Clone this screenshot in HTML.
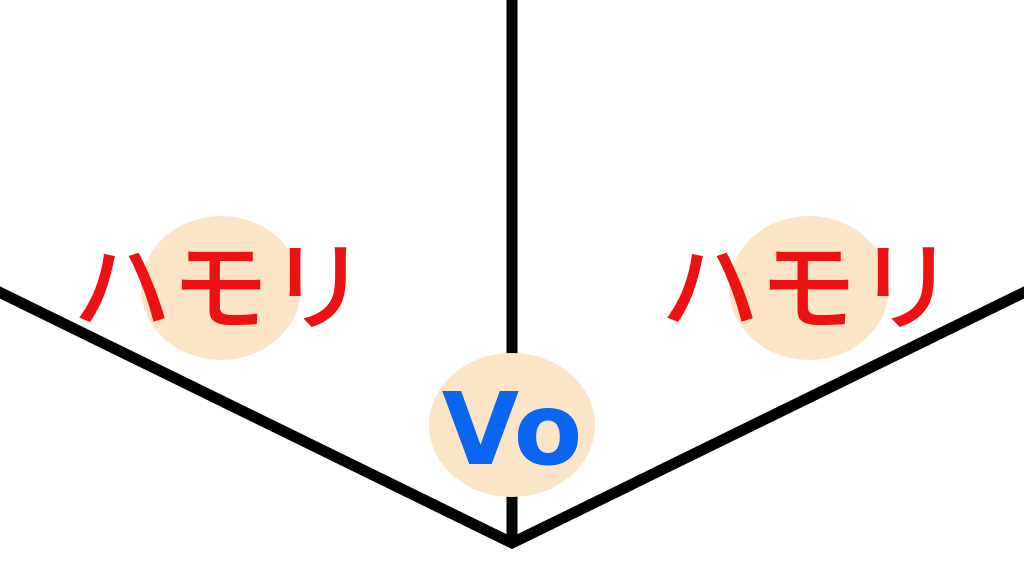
<!DOCTYPE html>
<html><head><meta charset="utf-8"><style>html,body{margin:0;padding:0;background:#fff}svg{display:block}</style></head>
<body>
<svg width="1024" height="576" viewBox="0 0 1024 576" xmlns="http://www.w3.org/2000/svg">
<rect width="1024" height="576" fill="#fff"/>
<line x1="512" y1="0" x2="512" y2="540" stroke="#000" stroke-width="11"/>
<polyline points="-5,290 512,543 1029,290" fill="none" stroke="#000" stroke-width="11" stroke-linejoin="miter"/>
<ellipse cx="221" cy="288" rx="80" ry="72" fill="#fce4c6"/>
<ellipse cx="809" cy="288" rx="80" ry="72" fill="#fce4c6"/>
<ellipse cx="512" cy="425" rx="83" ry="72" fill="#fce4c6"/>
<text x="220" y="322" text-anchor="middle" font-family="'Noto Sans CJK JP',sans-serif" font-weight="500" font-size="98" fill="#ee1111">ハモリ</text>
<text x="808" y="322" text-anchor="middle" font-family="'Noto Sans CJK JP',sans-serif" font-weight="500" font-size="98" fill="#ee1111">ハモリ</text>
<text x="512" y="464" text-anchor="middle" font-family="'DejaVu Sans',sans-serif" font-weight="bold" font-size="100" fill="#0a66f0">Vo</text>
</svg>
</body></html>
